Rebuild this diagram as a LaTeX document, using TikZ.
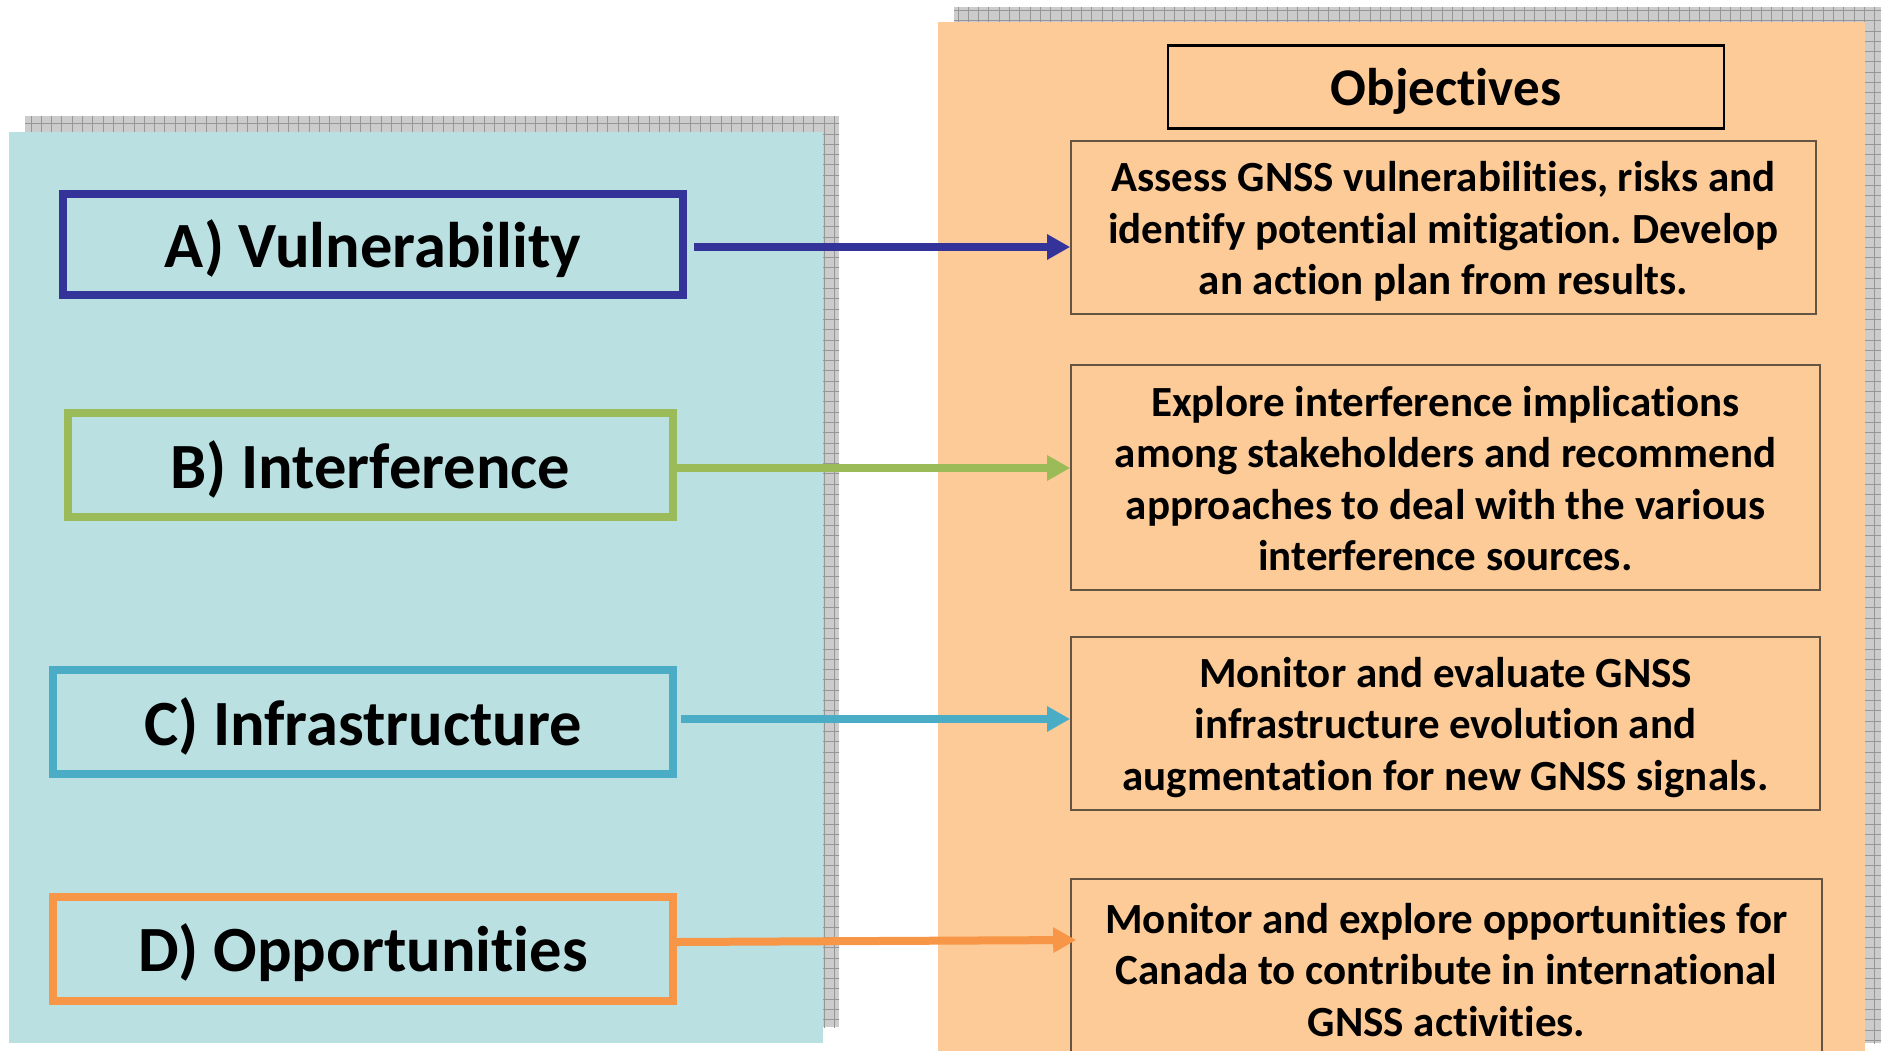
\documentclass[tikz,border=0pt]{standalone}
\usepackage{fontspec}
\setmainfont{Carlito}[Ligatures=NoCommon]
\frenchspacing
\usetikzlibrary{arrows.meta}
\definecolor{tealbg}{RGB}{186,224,226}
\definecolor{orangebg}{RGB}{253,203,152}
\definecolor{shadowfill}{RGB}{204,204,204}
\definecolor{shadowgrid}{RGB}{150,150,150}
\definecolor{cA}{RGB}{51,51,153}
\definecolor{cB}{RGB}{155,187,89}
\definecolor{cC}{RGB}{75,172,198}
\definecolor{cD}{RGB}{247,150,70}
\definecolor{objborder}{RGB}{100,84,68}
\tikzset{
  leftbox/.style={draw, line width=8pt, fill=none, inner sep=0pt},
  lefttext/.style={inner sep=0pt, font=\fontsize{64.5}{64.5}\selectfont\bfseries},
  objbox/.style={draw=objborder, line width=1.6pt, fill=orangebg, inner sep=0pt},
  objtext/.style={inner sep=0pt, align=center, font=\fontsize{43}{51.6}\selectfont\bfseries\frenchspacing},
  titlebox/.style={draw=black, line width=2.6pt, fill=orangebg, inner sep=0pt},
  titletext/.style={inner sep=0pt, font=\fontsize{53}{53}\selectfont\bfseries},
  conn/.style={line width=8pt, -{Triangle[length=23pt,width=24pt]}},
}
\begin{document}
\begin{tikzpicture}[x=1pt,y=-1pt]
\useasboundingbox (0,0) rectangle (1888,1050);
\clip (0,0) rectangle (1888,1050);
% left panel shadow
\begin{scope}
  \clip (25,116) rectangle (839,1027);
  \fill[shadowfill] (25,116) rectangle (839,1027);
  \draw[shadowgrid, line width=0.7pt, step=10.3pt] (20,110) grid (845,1030);
\end{scope}
\fill[tealbg] (9,132) rectangle (823,1043);
% right panel shadow
\begin{scope}
  \clip (954,7) rectangle (1881,1043);
  \fill[shadowfill] (954,7) rectangle (1881,1043);
  \draw[shadowgrid, line width=0.7pt, step=10.3pt] (950,0) grid (1885,1045);
\end{scope}
\fill[orangebg] (938,22) rectangle (1865,1060);
% left boxes
\node[leftbox, draw=cA, minimum width=620pt, minimum height=101pt] (A) at (373,244.5) {};
\node[leftbox, draw=cB, minimum width=605pt, minimum height=104pt] (B) at (370.5,465) {};
\node[leftbox, draw=cC, minimum width=620pt, minimum height=104pt] (C) at (363,722) {};
\node[leftbox, draw=cD, minimum width=620pt, minimum height=104pt] (D) at (363,949) {};
\node[lefttext] (At) at ([yshift=-4pt]A.center) {A) Vulnerability};
\node[lefttext] (Bt) at ([yshift=-4pt]B.center) {B) Interference};
\node[lefttext] (Ct) at ([yshift=-4pt]C.center) {C) Infrastructure};
\node[lefttext] (Dt) at ([yshift=-4pt]D.center) {D) Opportunities};
% title
\node[titlebox, minimum width=556pt, minimum height=83pt] (T) at (1446,87) {};
\node[titletext] (Tt) at ([yshift=-4pt]T.center) {Objectives};
% objective boxes
\node[objbox, minimum width=745pt, minimum height=173pt] (R1) at (1443.5,227.5) {};
\node[objbox, minimum width=749pt, minimum height=225pt] (R2) at (1445.5,477.5) {};
\node[objbox, minimum width=749pt, minimum height=173pt] (R3) at (1445.5,723.5) {};
\node[objbox, minimum width=751pt, minimum height=176pt] (R4) at (1446.5,967) {};
\node[objtext] (R1t) at ([yshift=-4pt]R1.center)
  {Assess GNSS vulnerabilities, risks and\\identify potential mitigation. Develop\\an action plan from results.};
\node[objtext] (R2t) at ([yshift=-1pt]R2.center)
  {Explore interference implications\\among stakeholders and recommend\\approaches to deal with the various\\interference sources.};
\node[objtext] (R3t) at ([yshift=-4pt]R3.center)
  {Monitor and evaluate GNSS\\infrastructure evolution and\\augmentation for new GNSS signals.};
\node[objtext] (R4t) at ([yshift=-3pt]R4.center)
  {Monitor and explore opportunities for\\Canada to contribute in international\\GNSS activities.};
% connectors
\draw[conn, cA] ([xshift=7pt,yshift=-2.5pt]A.east) -- ([yshift=-2.5pt]A.east -| R1.west);
\draw[conn, cB] ([yshift=-3pt]B.east) -- ([yshift=-3pt]B.east -| R2.west);
\draw[conn, cC] ([xshift=4pt,yshift=3pt]C.east) -- ([yshift=3pt]C.east -| R3.west);
\draw[conn, cD] ([yshift=7pt]D.east) -- ([xshift=6pt,yshift=9pt]D.east -| R4.west);
\end{tikzpicture}
\end{document}
